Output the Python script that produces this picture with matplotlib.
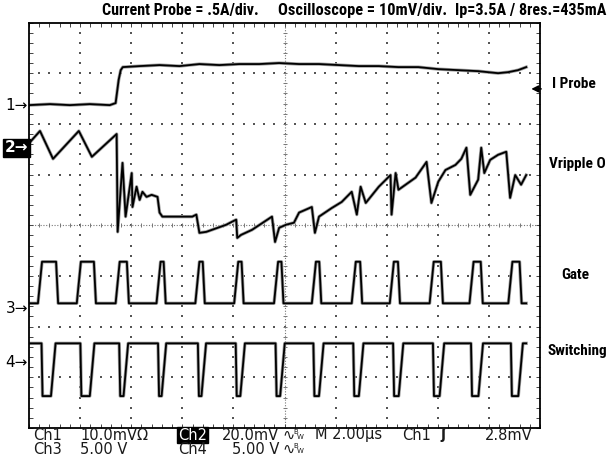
import numpy as np
import matplotlib.pyplot as plt

# time axis in microseconds (2 us/div, 10 div), amplitudes in screen divisions (-4..4)

# Ch1 - current probe
ch1_t = [0.00, 0.82, 1.60, 2.38, 3.16, 3.39, 3.51, 3.59, 3.67, 4.33, 5.11, 5.89,
         6.67, 7.45, 8.23, 9.01, 9.79, 10.57, 11.35, 12.13, 12.91, 13.69, 14.46,
         15.24, 16.02, 16.80, 17.58, 18.36, 18.75, 19.14, 19.46]
ch1_v = [2.37, 2.39, 2.37, 2.39, 2.37, 2.41, 2.87, 3.06, 3.12, 3.14, 3.16, 3.14,
         3.18, 3.16, 3.18, 3.18, 3.20, 3.18, 3.18, 3.16, 3.14, 3.14, 3.12,
         3.12, 3.08, 3.06, 3.04, 3.00, 3.02, 3.06, 3.12]

# Ch2 - output ripple
ch2_t = [0.04, 0.43, 0.94, 1.95, 2.46, 3.43, 3.47, 3.66, 3.78, 4.02, 4.05, 4.21,
         4.33, 4.44, 4.60, 4.80, 5.03, 5.11, 5.22, 6.39, 6.55, 6.67, 6.94, 7.72,
         7.95, 8.11, 8.15, 8.30, 8.73, 9.51, 9.63, 9.79, 10.06, 10.37, 10.57,
         11.07, 11.19, 11.35, 11.85, 12.24, 12.63, 12.83, 12.98, 13.18, 13.69,
         14.15, 14.19, 14.35, 14.46, 15.13, 15.56, 15.75, 16.02, 16.30, 16.69,
         16.92, 17.12, 17.27, 17.58, 17.70, 17.82, 18.05, 18.36, 18.68, 18.83,
         19.03, 19.26, 19.46]
ch2_v = [1.64, 1.86, 1.31, 1.86, 1.35, 1.80, -0.13, 1.23, 0.17, 1.03, 0.36, 0.76,
         0.50, 0.66, 0.56, 0.60, 0.56, 0.25, 0.17, 0.17, 0.21, -0.15, -0.13, 0.01,
         0.07, 0.11, -0.25, -0.19, -0.09, 0.17, -0.33, -0.05, 0.01, 0.05, 0.25,
         0.36, -0.15, 0.17, 0.34, 0.46, 0.66, 0.21, 0.76, 0.44, 0.76,
         0.99, 0.21, 1.03, 0.70, 0.94, 1.25, 0.44, 0.86, 1.09, 1.19,
         1.31, 1.53, 0.60, 0.90, 1.53, 1.03, 1.29, 1.39, 1.45, 0.54,
         0.99, 0.80, 0.99]

# Ch3 - gate drive edges
gate_rise = [0.43, 1.95, 3.47, 5.07, 6.59, 8.11, 9.67, 11.15, 12.71, 14.20, 15.76, 17.32, 18.84]
gate_fall = [1.09, 2.57, 3.86, 5.30, 6.83, 8.35, 9.91, 11.39, 12.99, 14.47, 16.15, 17.71, 19.23]
gate_low, gate_high = -1.54, -0.72

# Ch4 - switching node edges
sw_fall = [0.51, 2.03, 3.55, 5.07, 6.63, 8.11, 9.67, 11.15, 12.71, 14.27, 15.83, 17.32, 18.88]
sw_rise = [0.94, 2.46, 3.78, 5.27, 6.83, 8.35, 9.91, 11.43, 12.99, 14.55, 16.15, 17.67, 19.23]
sw_high, sw_low = -2.33, -3.37

t_end = 19.46
ref_levels = [2.37, 1.53, -1.64, -2.70]
trig_level = 2.69


def px(x, y):
    return x / 607, 1 - y / 463


def gate_wave():
    t, v = [0.04], [gate_low]
    for r, f in zip(gate_rise, gate_fall):
        t += [r - 0.08, r + 0.08, f - 0.03, f + 0.05]
        v += [gate_low, gate_high, gate_high, gate_low]
    t.append(t_end)
    v.append(gate_low)
    return t, v


def sw_wave():
    t, v = [0.04], [sw_high]
    for f, r in zip(sw_fall, sw_rise):
        t += [f - 0.02, f + 0.02, r - 0.08, r + 0.1]
        v += [sw_high, sw_low, sw_low, sw_high]
    t.append(t_end)
    v.append(sw_high)
    return t, v


fig = plt.figure(figsize=(6.07, 4.63), dpi=100)
ax = fig.add_axes([29 / 607, 1 - 428 / 463, 511 / 607, 405.5 / 463])
ax.set_xlim(0, 20)
ax.set_ylim(-4, 4)

# graticule: dotted division lines, denser centre cross
gx, gy = [], []
for xv in np.arange(2, 19.9, 2):
    if abs(xv - 10) > 0.01:
        ys = np.arange(-3.8, 3.81, 0.2)
        gx += [xv] * len(ys)
        gy += list(ys)
for yv in np.arange(-3, 3.1, 1):
    if abs(yv) > 0.01:
        xs = np.arange(0.4, 19.7, 0.4)
        gx += list(xs)
        gy += [yv] * len(xs)
ax.scatter(gx, gy, s=1.2, marker='s', color='#555555', linewidths=0, zorder=1)
ax.axvline(10, color='#777777', lw=0.8, ls=(0, (1, 1.5)), zorder=1)
ax.axhline(0, color='#777777', lw=0.8, ls=(0, (1, 1.5)), zorder=1)
cx = np.arange(0.4, 19.7, 0.4)
ax.scatter(cx, np.zeros_like(cx), s=12, marker='|', color='#777777', linewidths=0.7, zorder=1)
cy = np.arange(-3.8, 3.81, 0.2)
ax.scatter(np.full_like(cy, 10), cy, s=12, marker='_', color='#777777', linewidths=0.7, zorder=1)

ax.xaxis.set_major_locator(plt.MultipleLocator(2))
ax.xaxis.set_minor_locator(plt.MultipleLocator(0.4))
ax.yaxis.set_major_locator(plt.MultipleLocator(1))
ax.yaxis.set_minor_locator(plt.MultipleLocator(0.2))
ax.tick_params(which='both', direction='in', top=True, right=True, length=3,
               width=0.7, color='#444444', labelleft=False, labelbottom=False)
for s in ax.spines.values():
    s.set_linewidth(1.3)

gt, gv = gate_wave()
st, sv = sw_wave()
for t, v in [(ch1_t, ch1_v), (ch2_t, ch2_v), (gt, gv), (st, sv)]:
    ax.plot(t, v, color='#a0a0a0', lw=2.4, zorder=2, solid_joinstyle='round')
    ax.plot(t, v, color='black', lw=1.3, zorder=3, solid_joinstyle='round')

# channel ground markers
mfont = dict(fontsize=11, family='DejaVu Sans', va='center', ha='right')
for i, lvl in enumerate(ref_levels):
    if i == 1:
        ax.text(-0.04, lvl, '2→', color='white', fontweight='bold',
                bbox=dict(facecolor='black', edgecolor='black', pad=1.2),
                clip_on=False, **mfont)
    else:
        ax.text(-0.04, lvl, f'{i + 1}→', clip_on=False, **mfont)
ax.annotate('', xy=(19.55, trig_level), xytext=(20.15, trig_level),
            arrowprops=dict(arrowstyle='-|>', color='black', lw=1.2), annotation_clip=False)

# header
hfont = dict(family=['Roboto Condensed', 'Liberation Sans Narrow', 'Liberation Sans'],
             fontweight='bold', fontsize=11.5, va='center', ha='left')
fig.text(*px(102, 10), 'Current Probe = .5A/div.', **hfont)
fig.text(*px(278, 10), 'Oscilloscope = 10mV/div.', **dict(hfont, fontsize=11.8))
fig.text(*px(455, 10), 'Ip=3.5A / 8res.=435mA', **dict(hfont, fontsize=11.6))

# trace labels on the right
lfont = dict(hfont, fontsize=11)
fig.text(*px(552, 84), 'I Probe', **lfont)
fig.text(*px(549, 164), 'Vripple O', **lfont)
fig.text(*px(561, 275), 'Gate', **lfont)
fig.text(*px(548, 351), 'Switching', **lfont)

# status lines
sfont = dict(family=['DejaVu Sans', 'Noto Sans'], fontsize=10.5,
             va='center', ha='left', color='#1a1a1a')
bw = dict(family='DejaVu Sans', fontsize=5, va='center', color='#1a1a1a')
r1, r2 = 435, 449
fig.text(*px(33, r1), 'Ch1', **sfont)
fig.text(*px(80, r1), '10.0mVΩ', **sfont)
fig.text(*px(178, r1), 'Ch2', **dict(sfont, color='white'),
         bbox=dict(facecolor='black', edgecolor='black', pad=0.6))
fig.text(*px(222, r1), '20.0mV', **sfont)
fig.text(*px(282, r1), '∿', **sfont)
fig.text(*px(293, r1 - 3), 'B', **bw)
fig.text(*px(297, r1 + 2), 'W', **bw)
fig.text(*px(315, r1), 'M 2.00µs', **sfont)
fig.text(*px(402, r1), 'Ch1', **sfont)
fig.text(*px(440, r1), 'ʃ', fontweight='bold', **sfont)
fig.text(*px(485, r1), '2.8mV', **sfont)
fig.text(*px(33, r2), 'Ch3', **sfont)
fig.text(*px(80, r2), '5.00 V', **sfont)
fig.text(*px(178, r2), 'Ch4', **sfont)
fig.text(*px(232, r2), '5.00 V', **sfont)
fig.text(*px(282, r2), '∿', **sfont)
fig.text(*px(293, r2 - 3), 'B', **bw)
fig.text(*px(297, r2 + 2), 'W', **bw)

fig.savefig('out.png', dpi=100)
